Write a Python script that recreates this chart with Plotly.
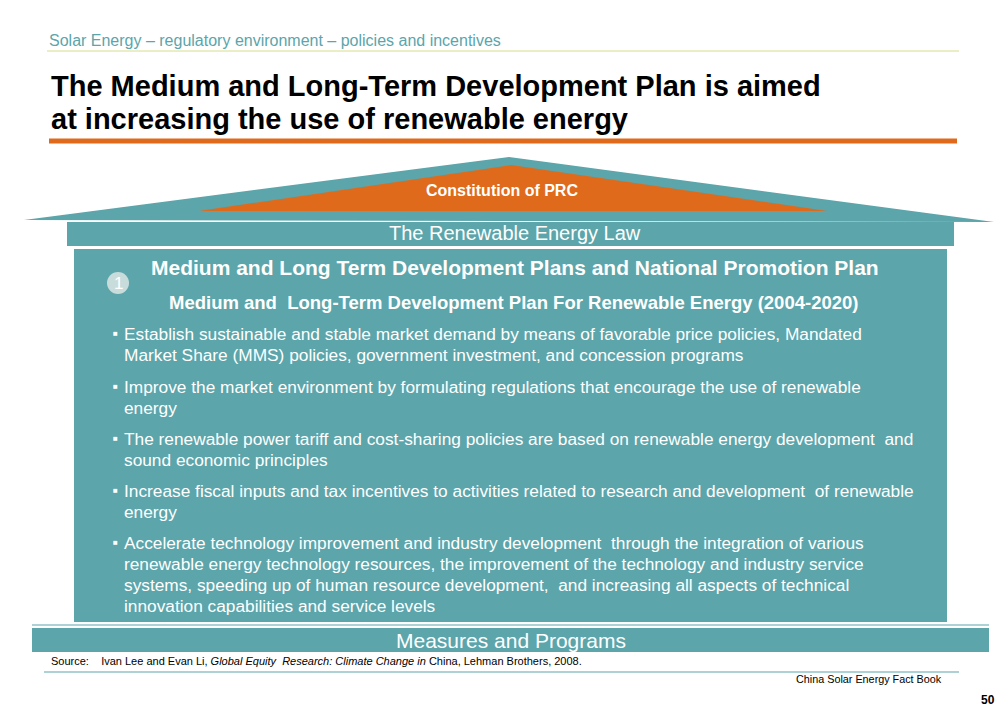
import plotly.graph_objects as go

TEAL = "#5ba5ab"
ORANGE = "#e06a1b"

header = "Solar Energy – regulatory environment – policies and incentives"
title_lines = [
    "The Medium and Long-Term Development Plan is aimed",
    "at increasing the use of renewable energy",
]
roof_label = "Constitution of PRC"
law_label = "The Renewable Energy Law"
box_heading = "Medium and Long Term Development Plans and National Promotion Plan"
box_sub = "Medium and  Long-Term Development Plan For Renewable Energy (2004-2020)"
bullets = [
    ["Establish sustainable and stable market demand by means of favorable price policies, Mandated",
     "Market Share (MMS) policies, government investment, and concession programs"],
    ["Improve the market environment by formulating regulations that encourage the use of renewable",
     "energy"],
    ["The renewable power tariff and cost-sharing policies are based on renewable energy development  and",
     "sound economic principles"],
    ["Increase fiscal inputs and tax incentives to activities related to research and development  of renewable",
     "energy"],
    ["Accelerate technology improvement and industry development  through the integration of various",
     "renewable energy technology resources, the improvement of the technology and industry service",
     "systems, speeding up of human resource development,  and increasing all aspects of technical",
     "innovation capabilities and service levels"],
]
bullet_tops = [334, 387, 439, 491, 543]
footer_label = "Measures and Programs"
source = ("Source:    Ivan Lee and Evan Li, <i>Global Equity  Research: Climate Change in</i> China, "
          "Lehman Brothers, 2008.")
book = "China Solar Energy Fact Book"
page = "50"

FONT = "Liberation Sans, Arial, sans-serif"

fig = go.Figure()
shapes = []
ann = []


def text(x, y, s, size, color="white", bold=False, xanchor="left", yanchor="middle"):
    if bold:
        s = "<b>" + s + "</b>"
    ann.append(dict(x=x, y=y, text=s, showarrow=False, xanchor=xanchor, yanchor=yanchor,
                    font=dict(family=FONT, size=size, color=color)))


# header
text(48, 40, header, 16, color="#5ba5ab")
shapes.append(dict(type="line", x0=48, x1=960, y0=51, y1=51, line=dict(color="#d8dc8c", width=1)))
text(50, 86, title_lines[0], 29, color="black", bold=True)
text(50, 119, title_lines[1], 29, color="black", bold=True)
shapes.append(dict(type="line", x0=50, x1=958, y0=141, y1=141, line=dict(color=ORANGE, width=5)))

# roof
shapes.append(dict(type="path", path="M 25 220 L 510 157 L 995 222 Z", fillcolor=TEAL, line=dict(width=0)))
shapes.append(dict(type="path", path="M 200 211 L 512 165 L 828 211 Z", fillcolor=ORANGE, line=dict(width=0)))
text(503, 190, roof_label, 16, bold=True, xanchor="center")

# law bar
shapes.append(dict(type="rect", x0=68, x1=955, y0=222, y1=246, fillcolor=TEAL, line=dict(width=0)))
text(516, 233, law_label, 20, xanchor="center")

# main box
shapes.append(dict(type="rect", x0=75, x1=948, y0=249, y1=622, fillcolor=TEAL, line=dict(width=0)))
shapes.append(dict(type="circle", x0=108, x1=130, y0=272, y1=294, fillcolor="#c9dcdc", line=dict(width=0)))
text(119, 283, "1", 17, xanchor="center")
text(516, 267, box_heading, 21, bold=True, xanchor="center")
text(514, 302, box_sub, 18.5, bold=True, xanchor="center")
for top, lines in zip(bullet_tops, bullets):
    text(112, top - 1, "■", 8)
    for i, line in enumerate(lines):
        text(123, top + i * 21, line, 17.3)

# footer bar
shapes.append(dict(type="line", x0=33, x1=990, y0=625, y1=625, line=dict(color=TEAL, width=1)))
shapes.append(dict(type="rect", x0=33, x1=990, y0=628, y1=652, fillcolor=TEAL, line=dict(width=0)))
text(512, 640, footer_label, 21, xanchor="center")
text(50, 661, source, 11, color="black")
shapes.append(dict(type="line", x0=45, x1=960, y0=672, y1=672, line=dict(color=TEAL, width=1)))
text(945, 679, book, 10.8, color="black", xanchor="right")
text(998, 700, page, 12, color="black", bold=True, xanchor="right")

# shift ranges to compensate for the page margin
fig.update_layout(
    width=1008, height=720,
    margin=dict(l=0, r=0, t=0, b=0),
    plot_bgcolor="white", paper_bgcolor="white",
    xaxis=dict(range=[9, 1017], visible=False, fixedrange=True),
    yaxis=dict(range=[728, 8], visible=False, fixedrange=True),
    shapes=shapes, annotations=ann, showlegend=False,
)
fig.write_html("out.html", config={"displayModeBar": False})
